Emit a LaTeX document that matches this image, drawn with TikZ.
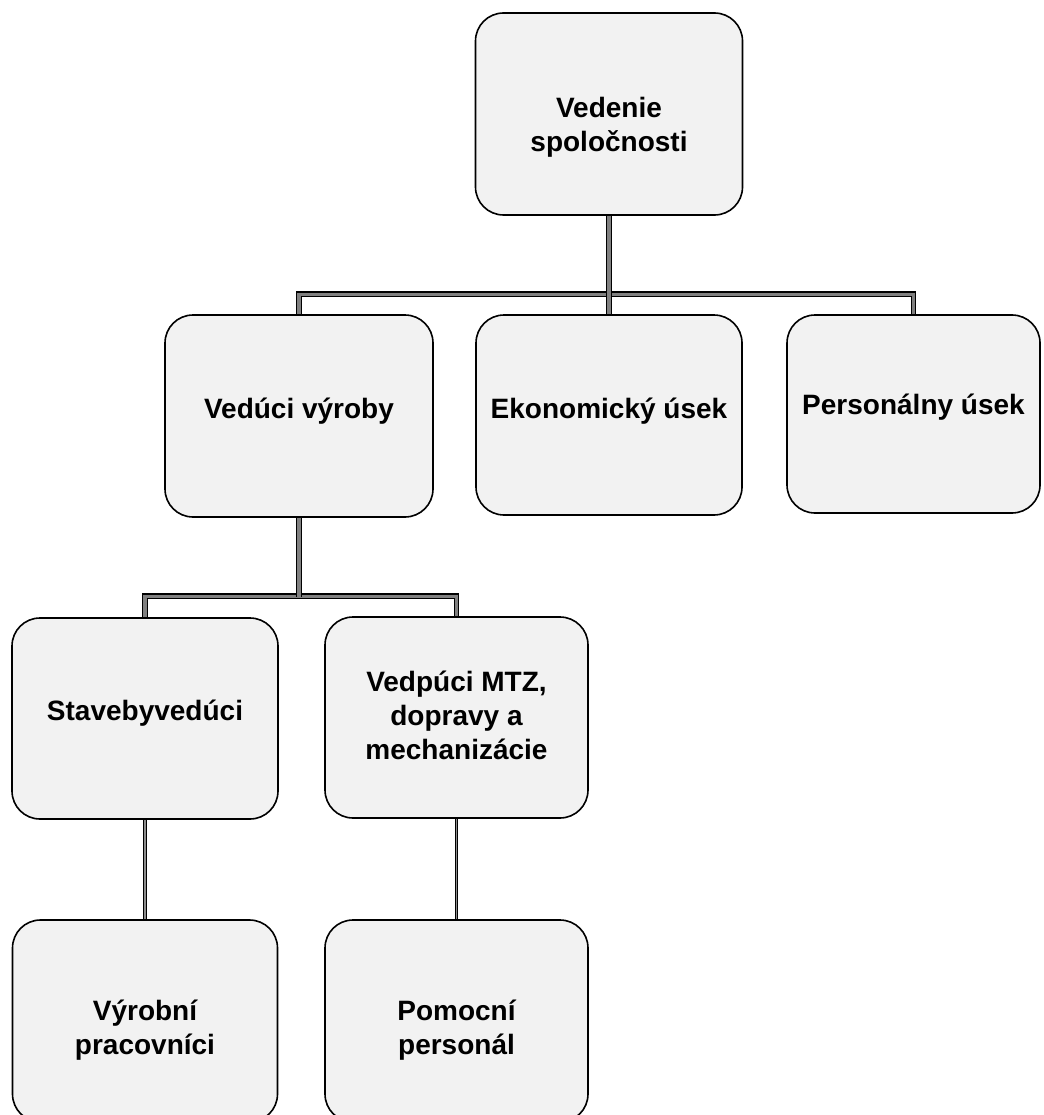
\documentclass[tikz,border=0pt]{standalone}
\usepackage{fontspec}
\setmainfont{Liberation Sans}
\pgfdeclarelayer{bg}
\pgfsetlayers{bg,main}
\tikzset{
  orgbox/.style={draw=black, line width=1.6pt, fill=black!5, rounded corners=28pt,
    inner sep=0pt, minimum width=#1},
  orgbox/.default=266pt,
  lbl/.style={font=\fontsize{28}{34}\selectfont\bfseries, align=center, inner sep=0pt},
  conn/.style={draw=black, line width=1.2pt, double=black!50, double distance=3.2pt},
  thinconn/.style={draw=black, line width=0.9pt, double=black!45, double distance=1.4pt}
}
\begin{document}
\begin{tikzpicture}[x=1pt, y=-1pt]
\useasboundingbox (0,0) rectangle (1043,1115);
\clip (0,0) rectangle (1043,1115);
% boxes
\node[orgbox=267pt, minimum height=202pt] (b1)  at (609,114) {};
\node[orgbox=268pt, minimum height=202pt] (b2a) at (299,416) {};
\node[orgbox=266pt, minimum height=200pt] (b2b) at (609,415) {};
\node[orgbox=253pt, minimum height=198pt] (b2c) at (913.5,414) {};
\node[orgbox=266pt, minimum height=201pt] (b3a) at (145,718.5) {};
\node[orgbox=263pt, minimum height=201pt] (b3b) at (456.5,717.5) {};
\node[orgbox=265pt, minimum height=202pt] (b4a) at (145,1021) {};
\node[orgbox=263pt, minimum height=202pt] (b4b) at (456.5,1021) {};
% labels
\node[lbl] (t1)  at (609,127) {Vedenie\\spoločnosti};
\node[lbl] (t2a) at (299,411) {Vedúci výroby};
\node[lbl] (t2b) at (609,411) {Ekonomický úsek};
\node[lbl] (t2c) at (913.5,407) {Personálny úsek};
\node[lbl] (t3a) at (145,713) {Stavebyvedúci};
\node[lbl] (t3b) at (456.5,715) {Vedpúci MTZ,\\dopravy a\\mechanizácie};
\node[lbl] (t4a) at (145,1030) {Výrobní\\pracovníci};
\node[lbl] (t4b) at (456.5,1030) {Pomocní\\personál};
% connectors
\coordinate (j3) at (299,597);
\begin{pgfonlayer}{bg}
\draw[conn] (b2a.north) -- ++(0,-20) -| (b2c.north);
\draw[conn] (b1.south) -- (b2b.north);
\draw[conn] (b3a.north) -- ++(0,-21) -| (b3b.north);
\draw[conn] (b2a.south) -- (j3);
\draw[thinconn] (b3a.south) -- (b4a.north);
\draw[thinconn] (b3b.south) -- (b4b.north);
\end{pgfonlayer}
\end{tikzpicture}
\end{document}
